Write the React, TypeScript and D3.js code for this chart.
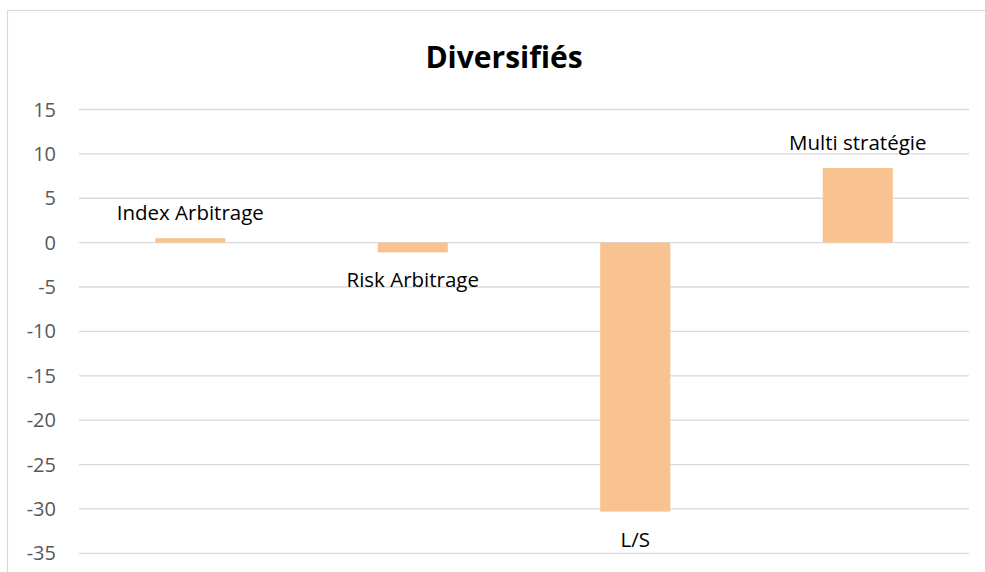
import React from "react";
import * as d3 from "d3";

const categories = ["Index Arbitrage", "Risk Arbitrage", "L/S", "Multi stratégie"];
const values = [0.5, -1.1, -30.3, 8.4];
const yTicks = [15, 10, 5, 0, -5, -10, -15, -20, -25, -30, -35];
const title = "Diversifiés";

export default function App() {
  const W = 985;
  const H = 572;
  const y = d3.scaleLinear().domain([-35, 15]).range([553.3, 109.5]);
  const x = d3
    .scaleBand<string>()
    .domain(categories)
    .range([79, 969])
    .paddingInner(0.685)
    .paddingOuter(0.3425);
  const font = "'Open Sans', 'Liberation Sans', sans-serif";
  return (
    <svg
      width={W}
      height={H}
      style={{ position: "absolute", left: 0, top: 0, background: "#fff" }}
    >
      <rect x={7.5} y={10.5} width={1000} height={600} fill="#fff" stroke="#d9d9d9" strokeWidth={1.2} />
      <text x={504} y={68} textAnchor="middle" fontFamily={font} fontWeight={700} fontSize={30} fill="#000">
        {title}
      </text>
      {yTicks.map((t) => (
        <g key={t}>
          <line x1={79} x2={969} y1={y(t)} y2={y(t)} stroke="#d9d9d9" strokeWidth={1.3} />
          <text
            x={56}
            y={y(t)}
            dy="0.35em"
            textAnchor="end"
            fontFamily={font}
            fontSize={20}
            fill="#595959"
          >
            {t}
          </text>
        </g>
      ))}
      {categories.map((c, i) => {
        const v = values[i];
        const bx = x(c) as number;
        const top = y(Math.max(0, v));
        const bot = y(Math.min(0, v));
        const ly = v >= 0 ? top - 18 : bot + 35;
        return (
          <g key={c}>
            <rect x={bx} y={top} width={x.bandwidth()} height={bot - top} fill="#f9c291" />
            <text
              x={bx + x.bandwidth() / 2}
              y={ly}
              textAnchor="middle"
              fontFamily={font}
              fontSize={20.5}
              fill="#000"
            >
              {c}
            </text>
          </g>
        );
      })}
    </svg>
  );
}
